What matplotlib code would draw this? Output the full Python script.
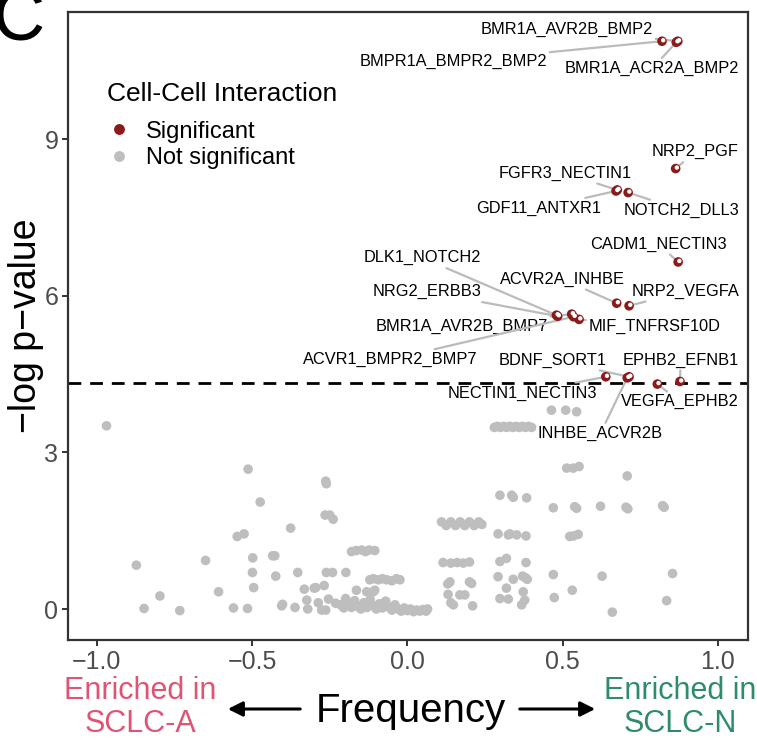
import matplotlib
matplotlib.use("Agg")
import matplotlib.pyplot as plt
from matplotlib.lines import Line2D
import matplotlib.transforms as mtransforms

plt.rcParams['font.family'] = ['Liberation Sans', 'DejaVu Sans']

# ---------------- data ----------------
# Significant interactions (frequency, -log p-value)
sig_names = ["BMR1A_AVR2B_BMP2", "BMPR1A_BMPR2_BMP2", "BMR1A_ACR2A_BMP2",
             "NRP2_PGF", "FGFR3_NECTIN1", "GDF11_ANTXR1", "NOTCH2_DLL3",
             "CADM1_NECTIN3", "DLK1_NOTCH2", "ACVR2A_INHBE", "NRP2_VEGFA",
             "NRG2_ERBB3", "BMR1A_AVR2B_BMP7", "MIF_TNFRSF10D", "ACVR1_BMPR2_BMP7",
             "BDNF_SORT1", "EPHB2_EFNB1", "NECTIN1_NECTIN3", "VEGFA_EPHB2", "INHBE_ACVR2B"]
sig_x = [0.871, 0.820, 0.866, 0.864, 0.676, 0.672, 0.711, 0.872, 0.480, 0.674, 0.714,
         0.484, 0.529, 0.553, 0.535, 0.714, 0.878, 0.639, 0.805, 0.708]
sig_y = [10.88, 10.88, 10.86, 8.44, 8.03, 8.01, 7.98, 6.65, 5.63, 5.86, 5.81,
         5.61, 5.65, 5.55, 5.60, 4.45, 4.36, 4.45, 4.31, 4.43]
# label placement (data coordinates)
lab_x = [0.513, 0.147, 0.789, 0.928, 0.507, 0.424, 0.883, 0.809, 0.048, 0.500, 0.896,
         0.063, 0.175, 0.796, -0.055, 0.466, 0.880, 0.369, 0.879, 0.622]
lab_y = [11.11, 10.49, 10.36, 8.76, 8.35, 7.68, 7.645, 6.99, 6.73, 6.32, 6.09,
         6.08, 5.41, 5.41, 4.78, 4.77, 4.77, 4.14, 3.97, 3.37]

# Not significant interactions
ns_x = [-0.969, -0.873, -0.848, -0.797, -0.733, -0.650, -0.608, -0.560, -0.515, -0.513,
        -0.474, -0.548, -0.526, -0.498, -0.499, -0.495, -0.434, -0.427, -0.424, -0.405,
        -0.402, -0.376, -0.362, -0.353, -0.332, -0.324, -0.321, -0.300, -0.295, -0.287,
        -0.276, -0.263, -0.268, -0.263, -0.261, -0.265, -0.250, -0.239, -0.261, -0.241,
        -0.254, -0.231, -0.198, -0.199,
        -0.180, -0.165, -0.147, -0.135, -0.123, -0.105,
        -0.164, -0.131, -0.110, -0.105,
        -0.121, -0.110, -0.094, -0.080, -0.067, -0.050, -0.035, -0.024,
        -0.215, -0.205, -0.190, -0.180, -0.170, -0.160, -0.150, -0.140, -0.130, -0.120,
        -0.110, -0.100, -0.090, -0.080, -0.070, -0.060, -0.050, -0.040, -0.030, -0.020,
        -0.010, 0.000, 0.010, 0.020, 0.030, 0.040, 0.050, 0.060, 0.065,
        0.280, 0.290, 0.300, 0.310, 0.320, 0.330, 0.340, 0.350, 0.360, 0.370, 0.380, 0.390, 0.400,
        0.464, 0.510, 0.545,
        0.513, 0.534, 0.553, 0.708,
        0.298, 0.336, 0.341, 0.384,
        0.470, 0.539, 0.545, 0.622, 0.704, 0.710, 0.827, 0.822,
        0.110, 0.125, 0.140, 0.155, 0.170, 0.185, 0.200, 0.215, 0.230, 0.240,
        0.292, 0.325, 0.330, 0.352, 0.382,
        0.523, 0.550, 0.535,
        0.115, 0.140, 0.160, 0.180, 0.200,
        0.298, 0.319, 0.382,
        0.137, 0.130, 0.207, 0.200,
        0.131, 0.169, 0.185,
        0.148, 0.140, 0.210,
        0.292, 0.341, 0.371, 0.386, 0.380,
        0.319, 0.373,
        0.298, 0.325, 0.378, 0.368,
        0.470, 0.627, 0.854, 0.473, 0.531, 0.835, 0.660]
ns_y = [3.51, 0.84, 0.01, 0.25, -0.03, 0.93, 0.33, 0.02, 0.01, 2.68,
        2.05, 1.39, 1.44, 0.98, 0.70, 0.41, 1.02, 1.02, 0.63, 0.06,
        0.09, 1.55, 0.03, 0.70, 0.38, 0.17, 0.00, 0.40, 0.41, 0.12,
        -0.02, -0.02, 0.45, 2.45, 2.40, 1.80, 1.80, 1.72, 0.70, 0.70,
        0.19, 0.11, 0.70, 0.20,
        1.10, 1.12, 1.13, 1.10, 1.13, 1.12,
        0.36, 0.33, 0.33, 0.36,
        0.56, 0.58, 0.56, 0.58, 0.56, 0.54, 0.58, 0.56,
        0.08, 0.02, 0.10, 0.03, 0.16, 0.05, 0.00, 0.12, 0.03, 0.18,
        0.06, 0.00, 0.10, 0.02, 0.15, 0.04, -0.02, 0.08, 0.00, -0.04,
        0.02, -0.03, 0.00, -0.05, -0.02, -0.04, -0.01, -0.04, 0.00,
        3.48, 3.50, 3.48, 3.50, 3.48, 3.50, 3.48, 3.50, 3.48, 3.50, 3.48, 3.50, 3.48,
        3.81, 3.81, 3.78,
        2.70, 2.70, 2.73, 2.55,
        2.18, 2.18, 2.14, 2.13,
        1.94, 1.96, 1.93, 1.97, 1.95, 1.92, 1.95, 1.98,
        1.67, 1.60, 1.67, 1.60, 1.67, 1.60, 1.67, 1.60, 1.67, 1.62,
        1.44, 1.42, 1.44, 1.42, 1.40,
        1.39, 1.43, 1.40,
        0.89, 0.88, 0.89, 0.88, 0.90,
        0.91, 0.97, 0.89,
        0.52, 0.48, 0.49, 0.52,
        0.28, 0.27, 0.27,
        0.08, 0.12, 0.06,
        0.62, 0.57, 0.63, 0.57, 0.60,
        0.40, 0.33,
        0.20, 0.19, 0.17, 0.08,
        0.66, 0.63, 0.68, 0.22, 0.36, 0.16, -0.06]

threshold = 4.33
x_ticks = [-1.0, -0.5, 0.0, 0.5, 1.0]
y_ticks = [0, 3, 6, 9]

RED = "#8B1A1A"
GREY = "#BEBEBE"
PINK = "#E05473"
GREEN = "#2E8B6B"

W, H = 757, 740
fig = plt.figure(figsize=(W / 100, H / 100), dpi=100)
ax = fig.add_axes([68 / W, 1 - 640 / H, (748 - 68) / W, (640 - 12) / H])

def fx(px):
    return px / W

def fy(py):
    return 1 - py / H

ax.set_xlim(-1.093, 1.097)
ax.set_ylim(-0.594, 11.44)

ax.axhline(threshold, color="black", lw=2.0, dashes=(4.6, 3.2), zorder=2)

ax.scatter(ns_x, ns_y, s=48, color=GREY, edgecolors="none", zorder=3)

for name, px, py, lx, ly in zip(sig_names, sig_x, sig_y, lab_x, lab_y):
    ax.annotate(name, xy=(px, py), xytext=(lx, ly), textcoords="data",
                ha="center", va="center", fontsize=11.8, color="black",
                arrowprops=dict(arrowstyle="-", color="#BBBBBB", lw=1.6,
                                shrinkA=0, shrinkB=3), zorder=3)

ax.scatter(sig_x, sig_y, s=48, color=RED, edgecolors="none", zorder=5)
off = mtransforms.offset_copy(ax.transData, fig=fig, x=1.2, y=1.0, units="dots")
ax.scatter(sig_x, sig_y, s=10, color="white", edgecolors="none", zorder=6,
           transform=off)

ax.set_xticks(x_ticks)
ax.set_xticklabels(["\u22121.0", "\u22120.5", "0.0", "0.5", "1.0"])
ax.set_yticks(y_ticks)
ax.tick_params(axis="both", direction="out", length=4, width=1.4, color="#333333",
               labelsize=18, labelcolor="#4D4D4D", pad=3)
for sp in ax.spines.values():
    sp.set_linewidth(1.6)
    sp.set_color("#333333")

ax.set_ylabel("\u2212log p\u2212value", fontsize=27, labelpad=0)

handles = [Line2D([], [], marker="o", ls="", color=RED, ms=6.8, label="Significant"),
           Line2D([], [], marker="o", ls="", color=GREY, ms=6.8, label="Not significant")]
leg = ax.legend(handles=handles, title="Cell-Cell Interaction", loc="upper left",
                bbox_to_anchor=(fx(107), fy(82)), bbox_transform=fig.transFigure,
                frameon=False, fontsize=17, title_fontsize=19, borderpad=0,
                handlelength=1.0, handletextpad=0.65, labelspacing=0.2,
                borderaxespad=0, alignment="left")
leg._legend_box.sep = 10.5

# bottom annotations
fig.text(fx(140), fy(699), "Enriched in", color=PINK, fontsize=22, ha="center", va="baseline")
fig.text(fx(140), fy(732), "SCLC-A", color=PINK, fontsize=22, ha="center", va="baseline")
fig.text(fx(680), fy(699), "Enriched in", color=GREEN, fontsize=22, ha="center", va="baseline")
fig.text(fx(680), fy(732), "SCLC-N", color=GREEN, fontsize=22, ha="center", va="baseline")
fig.text(fx(411), fy(722), "Frequency", color="black", fontsize=29, ha="center", va="baseline")
fig.add_artist(matplotlib.patches.FancyArrowPatch((fx(303), fy(709)), (fx(225), fy(709)),
               transform=fig.transFigure, arrowstyle="-|>", mutation_scale=22,
               lw=2.2, color="black"))
fig.add_artist(matplotlib.patches.FancyArrowPatch((fx(517), fy(709)), (fx(598), fy(709)),
               transform=fig.transFigure, arrowstyle="-|>", mutation_scale=22,
               lw=2.2, color="black"))

fig.text(fx(-8), fy(40), "C", fontsize=52, ha="left", va="baseline", color="black")

fig.savefig("out.png", dpi=100)
